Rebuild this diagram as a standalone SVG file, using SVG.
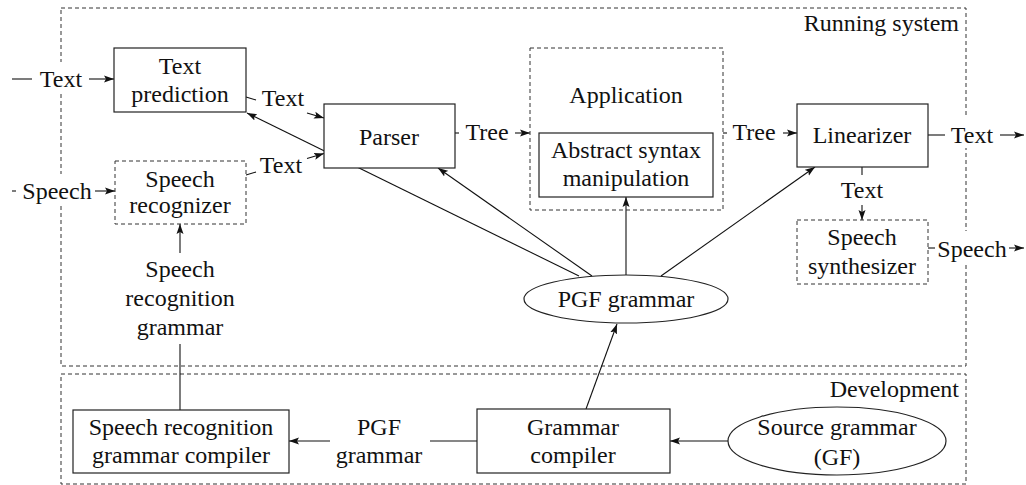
<svg xmlns="http://www.w3.org/2000/svg" width="1026" height="485" viewBox="0 0 1026 485" font-family="Liberation Serif" font-size="24">
  <style>
    text { font-family: "Liberation Serif", "Times New Roman", serif; font-size: 24px; fill: #111; text-anchor: middle; }
    .right { text-anchor: end; }
    .box { fill: #fff; stroke: #222; stroke-width: 1.2; }
    .dbox { fill: #fff; stroke: #333; stroke-width: 1; stroke-dasharray: 4 3; }
    .frame { fill: none; stroke: #333; stroke-width: 1; stroke-dasharray: 4 3; }
    .edge { fill: none; stroke: #111; stroke-width: 1.1; }
    .arrow { fill: none; stroke: #111; stroke-width: 1.1; marker-end: url(#head); }
    .bg { fill: #fff; stroke: none; }
  </style>
  <defs>
    <marker id="head" markerUnits="userSpaceOnUse" markerWidth="11" markerHeight="8" refX="10" refY="4" orient="auto">
      <path d="M0,0.5 L10,4 L0,7.5 L2,4 z" fill="#111"/>
    </marker>
  </defs>

  <!-- regions -->
  <g id="running-system">
    <rect class="frame" x="61" y="8" width="905" height="358"/>
    <text class="right" x="959" y="31">Running system</text>
  </g>
  <g id="development">
    <rect class="frame" x="61" y="374" width="905" height="110"/>
    <text class="right" x="959" y="397">Development</text>
  </g>

  <!-- connectors -->
  <g id="connectors">
    <!-- external text input -->
    <line class="edge" x1="12" y1="79" x2="32" y2="79"/>
    <rect class="bg" x="36" y="62" width="50" height="30"/>
    <text x="61" y="87">Text</text>
    <line class="arrow" x1="89" y1="79" x2="114" y2="79"/>

    <!-- external speech input -->
    <line class="edge" x1="12" y1="191" x2="16" y2="191"/>
    <rect class="bg" x="19" y="174" width="74" height="32"/>
    <text x="57" y="199">Speech</text>
    <line class="arrow" x1="95" y1="191" x2="115" y2="191"/>

    <!-- text prediction to parser -->
    <line class="edge" x1="246" y1="97" x2="256" y2="100"/>
    <text x="283" y="106">Text</text>
    <line class="arrow" x1="307" y1="113" x2="324" y2="118"/>

    <!-- speech recognizer to parser -->
    <line class="edge" x1="246" y1="175" x2="256" y2="172"/>
    <text x="281" y="173">Text</text>
    <line class="arrow" x1="307" y1="158.5" x2="324" y2="153.5"/>

    <!-- grammar to text prediction (runs under the parser box) -->
    <line class="arrow" x1="579" y1="276" x2="247" y2="113"/>

    <!-- grammar to parser, abstract syntax, linearizer -->
    <line class="arrow" x1="592" y1="276" x2="438" y2="168"/>
    <line class="arrow" x1="626" y1="275" x2="626" y2="197"/>
    <line class="arrow" x1="661" y1="276" x2="815" y2="167"/>

    <!-- parser to application -->
    <line class="edge" x1="455" y1="133" x2="459" y2="133"/>
    <text x="487" y="140">Tree</text>
    <line class="arrow" x1="515" y1="133" x2="530" y2="133"/>

    <!-- application to linearizer -->
    <line class="edge" x1="723" y1="133" x2="727" y2="133"/>
    <text x="754" y="140">Tree</text>
    <line class="arrow" x1="783" y1="133" x2="797" y2="133"/>

    <!-- linearizer text output -->
    <line class="edge" x1="928" y1="135" x2="945" y2="135"/>
    <rect class="bg" x="948" y="118" width="48" height="30"/>
    <text x="972" y="143">Text</text>
    <line class="arrow" x1="1000" y1="135" x2="1024" y2="135"/>

    <!-- linearizer to speech synthesizer -->
    <line class="edge" x1="862" y1="167" x2="862" y2="175"/>
    <text x="862" y="198">Text</text>
    <line class="arrow" x1="862" y1="205" x2="862" y2="220"/>

    <!-- speech synthesizer output -->
    <line class="edge" x1="928" y1="248" x2="935" y2="248"/>
    <rect class="bg" x="936" y="231" width="72" height="32"/>
    <text x="972" y="257">Speech</text>
    <line class="arrow" x1="1009" y1="248" x2="1024" y2="248"/>

    <!-- speech recognition grammar -->
    <line class="edge" x1="180" y1="410" x2="180" y2="344"/>
    <text x="180" y="277">Speech</text>
    <text x="180" y="306">recognition</text>
    <text x="180" y="335">grammar</text>
    <line class="arrow" x1="180" y1="253" x2="180" y2="224"/>

    <!-- grammar compiler to speech recognition grammar compiler -->
    <line class="edge" x1="477" y1="441" x2="430" y2="441"/>
    <text x="379" y="435">PGF</text>
    <text x="379" y="463">grammar</text>
    <line class="arrow" x1="330" y1="441" x2="289" y2="441"/>

    <!-- source grammar to grammar compiler -->
    <line class="arrow" x1="728" y1="441" x2="670" y2="441"/>

    <!-- grammar compiler to PGF grammar -->
    <line class="arrow" x1="586" y1="409" x2="617" y2="324"/>
  </g>

  <!-- nodes -->
  <g id="text-prediction">
    <rect class="box" x="114" y="48" width="132" height="64"/>
    <text x="180" y="74">Text</text>
    <text x="180" y="102">prediction</text>
  </g>
  <g id="speech-recognizer">
    <rect class="dbox" x="115" y="161" width="131" height="63"/>
    <text x="180" y="187">Speech</text>
    <text x="180" y="213">recognizer</text>
  </g>
  <g id="parser">
    <rect class="box" x="324" y="104" width="131" height="64"/>
    <text x="389" y="145">Parser</text>
  </g>
  <g id="application">
    <rect class="frame" x="530" y="48" width="193" height="162"/>
    <text x="626" y="103">Application</text>
  </g>
  <g id="abstract-syntax">
    <rect class="box" x="539" y="133" width="174" height="64"/>
    <text x="626" y="158">Abstract syntax</text>
    <text x="626" y="186">manipulation</text>
  </g>
  <g id="linearizer">
    <rect class="box" x="797" y="104" width="131" height="63"/>
    <text x="862" y="143">Linearizer</text>
  </g>
  <g id="speech-synthesizer">
    <rect class="dbox" x="797" y="220" width="131" height="64"/>
    <text x="862" y="245">Speech</text>
    <text x="862" y="274">synthesizer</text>
  </g>
  <g id="pgf-grammar">
    <ellipse class="box" cx="626" cy="299" rx="102" ry="24"/>
    <text x="626" y="307">PGF grammar</text>
  </g>
  <g id="speech-recognition-grammar-compiler">
    <rect class="box" x="73" y="410" width="216" height="63"/>
    <text x="181" y="435">Speech recognition</text>
    <text x="181" y="463">grammar compiler</text>
  </g>
  <g id="grammar-compiler">
    <rect class="box" x="477" y="409" width="193" height="64"/>
    <text x="573" y="435">Grammar</text>
    <text x="573" y="463">compiler</text>
  </g>
  <g id="source-grammar">
    <ellipse class="box" cx="837" cy="441" rx="109" ry="34"/>
    <text x="837" y="435">Source grammar</text>
    <text x="837" y="465">(GF)</text>
  </g>
</svg>
